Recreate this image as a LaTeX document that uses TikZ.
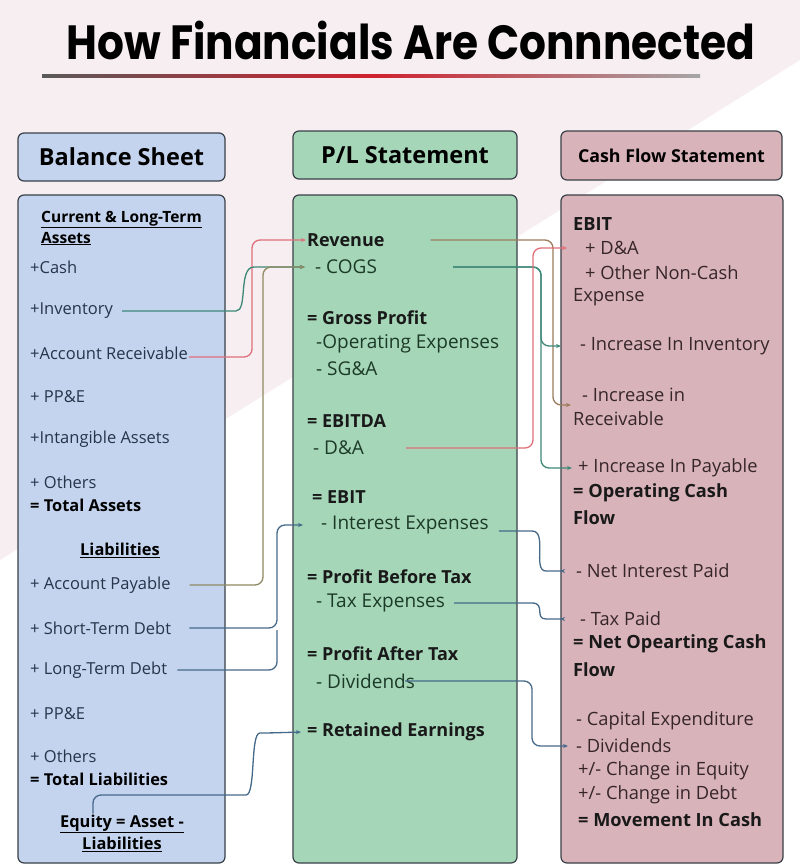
\documentclass[tikz,border=0pt]{standalone}
\usepackage{fontspec}
\setmainfont{Open Sans}
\newfontfamily\titlefont{Poppins}
\usepackage{xcolor}
\usepackage{graphicx}
\usetikzlibrary{positioning,arrows.meta,calc}
\definecolor{bsfill}{HTML}{C4D4EE}
\definecolor{plfill}{HTML}{A5D6B8}
\definecolor{cffill}{HTML}{D8B3B9}
\definecolor{boxline}{HTML}{3A4048}
\definecolor{bstext}{HTML}{27344A}
\definecolor{pltext}{HTML}{1C3A28}
\definecolor{cftext}{HTML}{36262A}
\definecolor{lnkred}{HTML}{E0707A}
\definecolor{lnkteal}{HTML}{3E8878}
\definecolor{lnkolive}{HTML}{8E8A62}
\definecolor{lnksteel}{HTML}{46698A}
\definecolor{lnkbrown}{HTML}{9C7B5C}
\definecolor{bgpink}{HTML}{F6EEF0}
\definecolor{linered}{HTML}{D0202E}

\begin{document}
\begin{tikzpicture}[x=1pt,y=-1pt,>=Stealth,
  head/.style={draw=boxline,line width=1.2pt,rounded corners=6pt,inner sep=0pt,font=\bfseries\fontsize{23.5}{28}\selectfont},
  body/.style={draw=boxline,line width=1.2pt,rounded corners=6pt},
  bs/.style={anchor=west,inner sep=1pt,text=bstext,font=\fontsize{16.5}{21}\selectfont},
  bsb/.style={bs,text=black,font=\bfseries\fontsize{16.4}{21}\selectfont},
  pl/.style={anchor=west,inner sep=1pt,text=pltext,font=\fontsize{19}{22}\selectfont},
  plb/.style={pl,text=black!90,font=\bfseries\fontsize{18}{22}\selectfont},
  cf/.style={anchor=west,inner sep=1pt,text=cftext,font=\fontsize{18.3}{22}\selectfont},
  cfb/.style={cf,text=black!90,font=\bfseries\fontsize{18.2}{22}\selectfont},
  lnk/.style={-{Stealth[length=5pt,width=4pt]},line width=1.3pt,rounded corners=8pt}]
  \useasboundingbox (0,0) rectangle (800,865);
  % background
  \fill[white] (0,0) rectangle (800,865);
  \fill[bgpink] (0,0) -- (800,0) -- (800,60) -- (0,560) -- cycle;
  % title
  \node[inner sep=0pt] (title) at (411,40) {\scalebox{0.88}[1]{\titlefont\bfseries\fontsize{48}{54}\selectfont How Financials Are Connnected}};
  \shade[left color=black!65,right color=black!35,middle color=linered] (42,74.5) rectangle (700,77.5);
  % column heads
  \node[head,fill=bsfill,minimum width=207pt,minimum height=48pt] (bshead) at (121.5,157) {Balance Sheet};
  \node[head,fill=plfill,minimum width=224pt,minimum height=48pt] (plhead) at (405,155) {P/L Statement};
  \node[head,fill=cffill,minimum width=221pt,minimum height=49pt,font=\bfseries\fontsize{17.8}{22}\selectfont] (cfhead) at (671.5,155.5) {Cash Flow Statement};
  % column bodies
  \draw[body,fill=bsfill] (18,195) rectangle (225,863);
  \draw[body,fill=plfill] (293,195) rectangle (517,863);
  \draw[body,fill=cffill] (561,195) rectangle (783,863);
  % balance sheet
  \node[bsb,align=left,font=\bfseries\fontsize{15.5}{21}\selectfont] (assets) at (40,228) {\underline{Current \& Long-Term}\\\underline{Assets}};
  \node[bs] (cash) at (29,267) {+Cash};
  \node[bs] (inv) at (29,311) {+Inventory};
  \node[bs] (recv) at (29,353) {+Account Receivable};
  \node[bs] (ppe) at (29,397) {+ PP\&E};
  \node[bs] (intang) at (29,439) {+Intangible Assets};
  \node[bs] (oth) at (29,482) {+ Others};
  \node[bsb] (tassets) at (29,505) {= Total Assets};
  \node[bsb,anchor=center] (liab) at (120,550) {\underline{Liabilities}};
  \node[bs] (pay) at (29,585) {+ Account Payable};
  \node[bs] (std) at (29,628) {+ Short-Term Debt};
  \node[bs] (ltd) at (29,670) {+ Long-Term Debt};
  \node[bs] (ppe2) at (29,714) {+ PP\&E};
  \node[bs] (oth2) at (29,756) {+ Others};
  \node[bsb] (tliab) at (29,779) {= Total Liabilities};
  \node[bsb,anchor=center,align=center,font=\bfseries\fontsize{16.4}{22}\selectfont] (eq) at (122,833) {\underline{Equity = Asset -}\\\underline{Liabilities}};
  % P/L statement
  \node[plb] (rev) at (306,240) {Revenue};
  \node[pl] (cogs) at (314,267) {- COGS};
  \node[plb] (gp) at (306,318) {= Gross Profit};
  \node[pl] (opex) at (315,344) {-Operating Expenses};
  \node[pl] (sga) at (315,369) {- SG\&A};
  \node[plb] (ebitda) at (306,421) {= EBITDA};
  \node[pl] (da) at (312,448) {- D\&A};
  \node[plb] (ebit) at (311,497) {= EBIT};
  \node[pl] (intx) at (320,525) {- Interest Expenses};
  \node[plb] (pbt) at (306,577) {= Profit Before Tax};
  \node[pl] (tax) at (315,603) {- Tax Expenses};
  \node[plb] (pat) at (306,654) {= Profit After Tax};
  \node[pl] (div) at (315,681) {- Dividends};
  \node[plb] (ret) at (306,732) {= Retained Earnings};
  % cash flow statement
  \node[cfb] (cebit) at (572,224) {EBIT};
  \node[cf] (cda) at (584,248) {+ D\&A};
  \node[cf] (noncash) at (584,273) {+ Other Non-Cash};
  \node[cf] (expense) at (572,297) {Expense};
  \node[cf] (cinv) at (579,346) {- Increase In Inventory};
  \node[cf] (crecv) at (581,395) {- Increase in};
  \node[cf] (crecv2) at (572,419) {Receivable};
  \node[cf] (cpay) at (577,468) {+ Increase In Payable};
  \node[cfb] (ocf) at (572,493) {= Operating Cash};
  \node[cfb] (ocf2) at (572,518) {Flow};
  \node[cf] (nip) at (575,571) {- Net Interest Paid};
  \node[cf] (taxp) at (579,619) {- Tax Paid};
  \node[cfb] (nocf) at (572,644) {= Net Opearting Cash};
  \node[cfb] (nocf2) at (572,670) {Flow};
  \node[cf] (capex) at (575,721) {- Capital Expenditure};
  \node[cf] (cdiv) at (575,746) {- Dividends};
  \node[cf] (ceq) at (577,771) {+/- Change in Equity};
  \node[cf] (cdebt) at (577,795) {+/- Change in Debt};
  \node[cfb] (mov) at (577,820) {= Movement In Cash};
  % balance sheet to P/L
  \draw[lnk,lnkred] ([yshift=-4pt]recv.east) -| ([xshift=-54pt]rev.west) -- (rev.west);
  \draw[lnk,lnkteal] ([xshift=8pt]inv.east) -- (228,311) .. controls (248,311) and (238,267) .. (262,267) -- ([xshift=-9pt]cogs.west);
  \draw[lnk,lnkolive] ([xshift=18pt]pay.east) -| ([xshift=-51pt]cogs.west) -- ([xshift=-9pt]cogs.west);
  \draw[lnk,lnksteel] ([xshift=17pt]std.east) -| ([xshift=-43pt]intx.west) -- ([xshift=-17pt]intx.west);
  \draw[lnk,lnksteel,-] ([xshift=9pt]ltd.east) -| (277,630);
  \draw[lnk,lnksteel] ([xshift=-29pt]eq.north) |- (238,795) .. controls (256,795) and (250,733) .. (268,733) -- ([xshift=-5pt]ret.west);
  % P/L to cash flow
  \draw[lnk,lnkbrown] ([xshift=45pt]rev.east) -| ([xshift=-28pt,yshift=-10pt]crecv.west) -- ([xshift=-10pt,yshift=-10pt]crecv.west);
  \draw[lnk,lnkteal] ([xshift=75pt]cogs.east) -| ([xshift=-38pt]cinv.west) -- ([xshift=-18pt]cinv.west);
  \draw[lnk,lnkteal] ([xshift=75pt]cogs.east) -| ([xshift=-36pt]cpay.west) -- ([xshift=-5pt]cpay.west);
  \draw[lnk,lnkred] ([xshift=41pt]da.east) -| ([xshift=-51pt]cda.west) -- ([xshift=-17pt]cda.west);
  \draw[lnk,lnksteel] ([xshift=9pt,yshift=-6pt]intx.east) -- (524,531) .. controls (548,531) and (532,571) .. (554,571) -- ([xshift=-15pt]nip.west);
  \draw[lnk,lnksteel] ([xshift=8pt]tax.east) -- (524,603) .. controls (546,603) and (534,619) .. (554,619) -- ([xshift=-19pt]taxp.west);
  \draw[lnk,lnksteel] ([xshift=-11pt]div.east) -| ([xshift=-43pt]cdiv.west) -- ([xshift=-7pt]cdiv.west);
\end{tikzpicture}
\end{document}
